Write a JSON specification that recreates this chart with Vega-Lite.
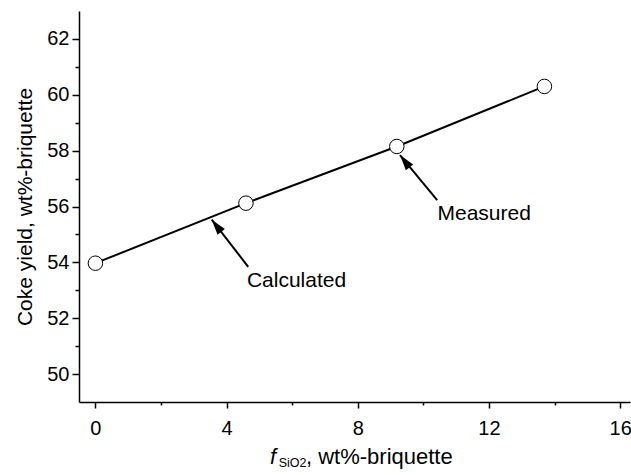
{
  "$schema": "https://vega.github.io/schema/vega-lite/v6.json",
  "width": 551,
  "height": 391,
  "autosize": {"type": "none"},
  "padding": {"left": 79, "top": 11, "right": 1, "bottom": 73},
  "background": "white",
  "config": {"view": {"stroke": null}, "font": "Liberation Sans"},
  "datasets": {
    "points": [
      {"x": 0, "y": 53.97},
      {"x": 4.59, "y": 56.12},
      {"x": 9.19, "y": 58.15},
      {"x": 13.69, "y": 60.3}
    ],
    "arrows": [
      {"x": 3.546, "y": 55.53, "x2": 4.66, "y2": 53.84},
      {"x": 9.287, "y": 57.84, "x2": 10.42, "y2": 56.23}
    ],
    "labels": [
      {"x": 4.62, "y": 53.13, "label": "Calculated"},
      {"x": 10.43, "y": 55.52, "label": "Measured"}
    ]
  },
  "encoding": {
    "x": {
      "field": "x",
      "type": "quantitative",
      "scale": {"domain": [-0.5, 16.3], "nice": false, "zero": false},
      "axis": {
        "values": [0, 2, 4, 6, 8, 10, 12, 14, 16],
        "labelExpr": "datum.value % 4 === 0 ? datum.label : ''",
        "tickSize": {"condition": {"test": "datum.value % 4 === 0", "value": 6}, "value": 3},
        "title": null,
        "grid": false,
        "domainColor": "black",
        "domainWidth": 1.5,
        "tickColor": "black",
        "tickWidth": 1.5,
        "labelFontSize": 20,
        "labelColor": "black",
        "labelPadding": 10,
        "labelFont": "Liberation Sans"
      }
    },
    "y": {
      "field": "y",
      "type": "quantitative",
      "scale": {"domain": [49, 63], "nice": false, "zero": false},
      "axis": {
        "values": [50, 51, 52, 53, 54, 55, 56, 57, 58, 59, 60, 61, 62],
        "labelExpr": "datum.value % 2 === 0 ? datum.label : ''",
        "tickSize": {"condition": {"test": "datum.value % 2 === 0", "value": 7}, "value": 4},
        "title": "Coke yield, wt%-briquette",
        "titleFontSize": 21,
        "titleFontWeight": "normal",
        "titleColor": "black",
        "titleFont": "Liberation Sans",
        "titlePadding": 11,
        "grid": false,
        "domainColor": "black",
        "domainWidth": 1.5,
        "tickColor": "black",
        "tickWidth": 1.5,
        "labelFontSize": 20,
        "labelColor": "black",
        "labelPadding": 3,
        "labelFont": "Liberation Sans"
      }
    }
  },
  "layer": [
    {
      "data": {"name": "points"},
      "mark": {"type": "line", "color": "black", "strokeWidth": 2}
    },
    {
      "data": {"name": "points"},
      "mark": {"type": "point", "shape": "circle", "filled": true, "fill": "white", "stroke": "black", "strokeWidth": 1, "size": 210, "opacity": 1}
    },
    {
      "data": {"name": "arrows"},
      "mark": {"type": "rule", "color": "black", "strokeWidth": 2},
      "encoding": {
        "x2": {"field": "x2"},
        "y2": {"field": "y2"}
      }
    },
    {
      "data": {"name": "arrows"},
      "mark": {"type": "point", "shape": "M0,0L0.6,2L-0.6,2Z", "filled": true, "color": "black", "size": 240, "angle": 322, "opacity": 1}
    },
    {
      "data": {"name": "labels"},
      "mark": {"type": "text", "align": "left", "baseline": "alphabetic", "fontSize": 21, "color": "black", "font": "Liberation Sans"},
      "encoding": {"text": {"field": "label"}}
    },
    {
      "data": {"values": [{"x": 5.32, "y": 46.78, "t": "f"}]},
      "mark": {"type": "text", "align": "left", "baseline": "alphabetic", "fontSize": 22, "fontStyle": "italic", "color": "black", "font": "Liberation Sans"},
      "encoding": {"text": {"field": "t"}}
    },
    {
      "data": {"values": [{"x": 5.59, "y": 46.67, "t": "SiO2"}]},
      "mark": {"type": "text", "align": "left", "baseline": "alphabetic", "fontSize": 12.5, "color": "black", "font": "Liberation Sans"},
      "encoding": {"text": {"field": "t"}}
    },
    {
      "data": {"values": [{"x": 6.42, "y": 46.78, "t": ", wt%-briquette"}]},
      "mark": {"type": "text", "align": "left", "baseline": "alphabetic", "fontSize": 22, "color": "black", "font": "Liberation Sans"},
      "encoding": {"text": {"field": "t"}}
    }
  ]
}
